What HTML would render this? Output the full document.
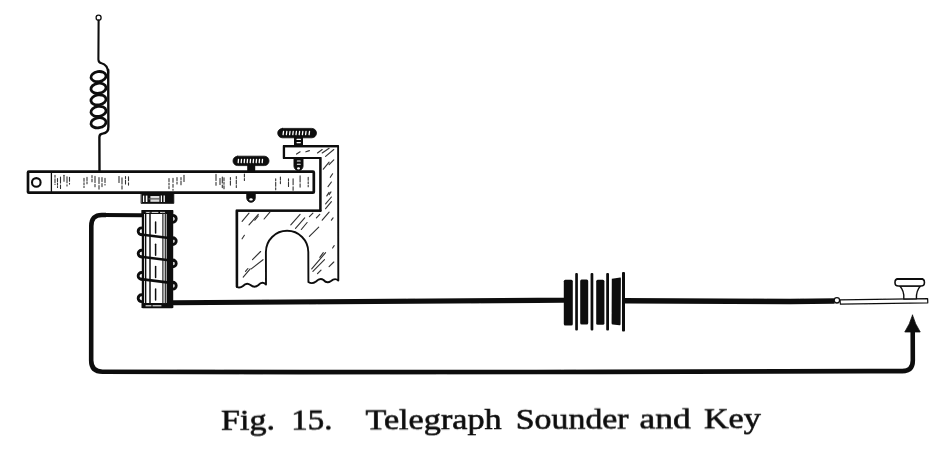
<!DOCTYPE html>
<html><head><meta charset="utf-8">
<style>
html,body{margin:0;padding:0;background:#fff;}
body{width:949px;height:452px;overflow:hidden;font-family:"Liberation Serif",serif;}
svg{display:block;}
text{font-family:"Liberation Serif",serif;fill:#111;}
</style></head><body>
<svg width="949" height="452" viewBox="0 0 949 452">
<defs><filter id="soft" x="-2%" y="-2%" width="104%" height="104%"><feGaussianBlur stdDeviation="0.3"/></filter></defs>
<rect width="949" height="452" fill="#fff"/>
<g filter="url(#soft)">
<g fill="none" stroke="#111" stroke-linecap="round" stroke-linejoin="round">

<!-- TOP TERMINAL + SPRING -->
<g id="spring" stroke-width="2.1">
<circle cx="98.6" cy="17.7" r="2.5" stroke-width="1.3" fill="#fff"/>
<path d="M98.6 20.6 L98.4 59.5 Q98.4 62.6 101.5 63.2 Q107.6 64.6 108.2 72.5"/>
<path d="M108.2 70 L108.4 126.5 Q108.7 133 102.6 133.6 Q99.4 133.9 99.4 137 L99.5 171" stroke-width="2.4"/>
<g stroke-width="2.8">
<ellipse cx="98.5" cy="76.6" rx="7.6" ry="5" transform="rotate(-9 98.5 76.6)"/>
<ellipse cx="98.5" cy="88.3" rx="7.6" ry="5" transform="rotate(-9 98.5 88.3)"/>
<ellipse cx="98.5" cy="99.9" rx="7.6" ry="5" transform="rotate(-9 98.5 99.9)"/>
<ellipse cx="98.5" cy="111.4" rx="7.6" ry="5" transform="rotate(-9 98.5 111.4)"/>
<ellipse cx="98.5" cy="122.8" rx="7.6" ry="5" transform="rotate(-9 98.5 122.8)"/>
</g>
</g>

<!-- BAR -->
<g id="bar">
<rect x="28" y="171.6" width="285.8" height="21.1" stroke-width="2.7" fill="#fff" rx="0.8"/>
<circle cx="36.3" cy="182.4" r="4.3" stroke-width="2.1"/>
<path d="M51.4 172 V192" stroke-width="1.3"/>
<path d="M55.0 175.2 V184.5" stroke-width="1.1" stroke="#333" stroke-dasharray="2 1.5 4 1.5"/>
<path d="M57.5 178.6 V187.4" stroke-width="1.1" stroke="#333" stroke-dasharray="3 1.5 2 1.5"/>
<path d="M60.5 177.0 V188.5" stroke-width="1.1" stroke="#333" stroke-dasharray="6 2"/>
<path d="M64.0 175.3 V182.7" stroke-width="1.1" stroke="#333" stroke-dasharray="6 2"/>
<path d="M67.0 176.7 V186.0" stroke-width="1.1" stroke="#333" stroke-dasharray="6 2"/>
<path d="M69.5 177.2 V184.1" stroke-width="1.1" stroke="#333" stroke-dasharray="4 2 3 2"/>
<path d="M84.0 178.3 V187.5" stroke-width="1.1" stroke="#333" stroke-dasharray="3 1.5 2 1.5"/>
<path d="M87.0 177.4 V183.7" stroke-width="1.1" stroke="#333" stroke-dasharray="3 1.5 2 1.5"/>
<path d="M92.0 175.5 V181.7" stroke-width="1.1" stroke="#333" stroke-dasharray="2 1.5 4 1.5"/>
<path d="M95.0 176.4 V186.7" stroke-width="1.1" stroke="#333" stroke-dasharray="6 2"/>
<path d="M99.0 177.6 V189.1" stroke-width="1.1" stroke="#333" stroke-dasharray="6 2"/>
<path d="M102.0 177.6 V187.1" stroke-width="1.1" stroke="#333" stroke-dasharray="4 2 3 2"/>
<path d="M105.0 178.4 V185.0" stroke-width="1.1" stroke="#333" stroke-dasharray="4 2 3 2"/>
<path d="M119.0 176.5 V184.0" stroke-width="1.1" stroke="#333" stroke-dasharray="6 2"/>
<path d="M122.0 177.9 V189.0" stroke-width="1.1" stroke="#333" stroke-dasharray="6 2"/>
<path d="M125.5 176.5 V184.9" stroke-width="1.1" stroke="#333" stroke-dasharray="2 1.5 4 1.5"/>
<path d="M128.5 176.7 V185.1" stroke-width="1.1" stroke="#333" stroke-dasharray="4 2 3 2"/>
<path d="M169.0 178.5 V188.6" stroke-width="1.1" stroke="#333" stroke-dasharray="3 1.5 2 1.5"/>
<path d="M173.0 178.3 V190.2" stroke-width="1.1" stroke="#333" stroke-dasharray="4 2 3 2"/>
<path d="M177.0 177.5 V185.5" stroke-width="1.1" stroke="#333" stroke-dasharray="3 1.5 2 1.5"/>
<path d="M181.0 177.6 V184.8" stroke-width="1.1" stroke="#333" stroke-dasharray="2 1.5 4 1.5"/>
<path d="M184.0 175.4 V181.8" stroke-width="1.1" stroke="#333" stroke-dasharray="6 2"/>
<path d="M216.0 174.4 V185.2" stroke-width="1.1" stroke="#333" stroke-dasharray="6 2"/>
<path d="M220.0 178.5 V184.6" stroke-width="1.1" stroke="#333" stroke-dasharray="6 2"/>
<path d="M224.0 177.8 V189.1" stroke-width="1.1" stroke="#333" stroke-dasharray="3 1.5 2 1.5"/>
<path d="M222.3 177.0 V187.6" stroke-width="1.1" stroke="#333" stroke-dasharray="6 2"/>
<path d="M230.4 177.6 V185.6" stroke-width="1.1" stroke="#333" stroke-dasharray="2 1.5 4 1.5"/>
<path d="M236.3 176.5 V188.5" stroke-width="1.1" stroke="#333" stroke-dasharray="2 1.5 4 1.5"/>
<path d="M244.4 174.0 V180.7" stroke-width="1.1" stroke="#333" stroke-dasharray="3 1.5 2 1.5"/>
<path d="M275.7 178.7 V190.5" stroke-width="1.1" stroke="#333" stroke-dasharray="2 1.5 4 1.5"/>
<path d="M280.4 177.1 V184.0" stroke-width="1.1" stroke="#333" stroke-dasharray="3 1.5 2 1.5"/>
<path d="M288.5 178.9 V186.9" stroke-width="1.1" stroke="#333" stroke-dasharray="2 1.5 4 1.5"/>
<path d="M293.1 178.8 V190.2" stroke-width="1.1" stroke="#333" stroke-dasharray="6 2"/>
<path d="M300.1 175.9 V187.1" stroke-width="1.1" stroke="#333" stroke-dasharray="6 2"/>
<path d="M308.2 177.2 V186.8" stroke-width="1.1" stroke="#333" stroke-dasharray="3 1.5 2 1.5"/>
</g>

<!-- ARMATURE -->
<g id="arm">
<rect x="141.4" y="193" width="32.4" height="10.4" fill="#111" stroke="#111" stroke-width="0.8"/>
<path d="M143.6 195.6 V202" stroke="#fff" stroke-width="1.3" stroke-linecap="butt"/>
<path d="M146.6 195.6 V202" stroke="#fff" stroke-width="1.6" stroke-linecap="butt"/>
<path d="M161.4 195.6 V202" stroke="#fff" stroke-width="1.2" stroke-linecap="butt"/>
<path d="M164.2 195.6 V202" stroke="#fff" stroke-width="1.3" stroke-linecap="butt"/>
<rect x="150.4" y="196" width="9" height="5.8" fill="#ddd" stroke="none"/>
<path d="M149 198.8 H160" stroke="#555" stroke-width="1.2"/>
</g>

<!-- CORE -->
<g id="core">
<rect x="142.9" y="211" width="29.2" height="96.2" stroke-width="2.2" fill="#fff"/>
<rect x="166.6" y="211" width="6.4" height="97" fill="#111" stroke="none"/>
<path d="M141.4 212 H173.2" stroke-width="4" stroke-linecap="butt"/>
<path d="M146 212.4 H166" stroke="#fff" stroke-width="0.9" stroke-dasharray="4 2 6 2.5"/>
<path d="M141.6 305.4 H173.2" stroke-width="5" stroke-linecap="butt"/>
<path d="M146 305.8 H162" stroke="#fff" stroke-width="1" stroke-dasharray="5 2 8 2"/>
<path d="M145.6 213 V303" stroke-width="1.5" stroke="#111"/>
<path d="M150 213 V303" stroke-width="1.5" stroke="#111"/>
<path d="M162.9 213 V303" stroke-width="1.2" stroke="#222"/>
<path d="M165.3 213 V303" stroke-width="1.2" stroke="#222"/>
<path d="M155.6 222.0 V233.0" stroke-width="1.5"/>
<path d="M155.6 244.3 V255.3" stroke-width="1.5"/>
<path d="M155.6 266.6 V277.6" stroke-width="1.5"/>
<path d="M155.6 288.9 V299.9" stroke-width="1.5"/>
<path d="M172.8 215.4 A3.4 3.4 0 1 1 172.8 222.2" stroke-width="2.9"/>
<path d="M141.6 227.9 A3.4 3.4 0 1 0 141.6 234.7" stroke-width="2.9"/>
<path d="M141 234.5 L173 238.5" stroke-width="2.6"/>
<path d="M172.8 237.7 A3.4 3.4 0 1 1 172.8 244.5" stroke-width="2.9"/>
<path d="M141.6 250.2 A3.4 3.4 0 1 0 141.6 257.0" stroke-width="2.9"/>
<path d="M141 256.8 L173 260.8" stroke-width="2.6"/>
<path d="M172.8 260.0 A3.4 3.4 0 1 1 172.8 266.8" stroke-width="2.9"/>
<path d="M141.6 272.5 A3.4 3.4 0 1 0 141.6 279.3" stroke-width="2.9"/>
<path d="M141 279.1 L173 283.1" stroke-width="2.6"/>
<path d="M172.8 282.3 A3.4 3.4 0 1 1 172.8 289.1" stroke-width="2.9"/>
<path d="M141.6 294.8 A3.4 3.4 0 1 0 141.6 301.6" stroke-width="2.9"/>
</g>

<!-- WIRES -->
<g id="wires" stroke-width="4.7" stroke-linecap="butt">
<path d="M142 215.2 L104 215" stroke-width="4"/>
<path d="M106 215 L102 215 Q91.3 214.9 91.3 226 L91.2 360.5 Q91.2 371.7 102.5 371.7 L300 372.1 L600 371.9 L870 371.1 L902.5 371.1 Q912.8 371.1 912.8 360.5 L912.7 328" stroke-width="4.6"/>
<path d="M172 302.8 L564 300.2" stroke-width="5.1"/>
<path d="M624 300.8 L730 301.3 L790 301.5 L834.6 301" stroke-width="5.4"/>
</g>
<path d="M912.5 315.2 Q915 324 920.2 332 L904.8 332 Q910 324 912.5 315.2 Z" fill="#111" stroke="#111" stroke-width="0.8"/>

<!-- FRAME -->
<g id="frame" stroke-width="1.9">
<path d="M283.8 146.2 L338.1 146.2 L338.3 280.5 Q335 277.5 331 281 Q327 284 323.5 280 Q320 277.5 316 281.5 Q312 284.5 308.4 282 L308.3 252 A21.2 21.2 0 0 0 265.9 252 L266 284.5 Q262 281 258.5 285 Q254.5 288.5 250.5 285 Q246.5 282 243 286 Q240 288.5 236.8 287 L236.6 210.7 L320.4 210.7 L320.4 158 L283.8 158 Z" fill="#fff"/>
<path d="M237 286.5 L237 210.6 L320.4 210.6" stroke-width="2.4" stroke-linejoin="miter"/>
<path d="M320.4 211 V158 H284 V146.2 H338" stroke-width="2.2" stroke-linejoin="miter"/>
</g>

<g id="fh">
<path d="M242.1 221.3 L249.0 213.2" stroke-width="1.15" stroke="#333"/>
<path d="M249.0 224.8 L258.3 214.4" stroke-width="1.15" stroke="#333"/>
<path d="M264.1 219.0 L269.9 212.1" stroke-width="1.15" stroke="#333"/>
<path d="M242.1 238.8 L244.4 235.3" stroke-width="1.15" stroke="#333"/>
<path d="M252.5 259.7 L260.6 251.5" stroke-width="1.15" stroke="#333"/>
<path d="M251.3 268.9 L263.0 259.7" stroke-width="1.15" stroke="#333"/>
<path d="M243.2 277.1 L250.2 268.9" stroke-width="1.15" stroke="#333"/>
<path d="M254.8 220.2 L258.3 216.0" stroke-width="1.15" stroke="#333"/>
<path d="M290.8 224.8 L300.1 214.4" stroke-width="1.15" stroke="#333"/>
<path d="M295.5 228.3 L304.7 217.9" stroke-width="1.15" stroke="#333"/>
<path d="M301.3 229.5 L307.1 222.5" stroke-width="1.15" stroke="#333"/>
<path d="M309.4 216.7 L312.9 213.2" stroke-width="1.15" stroke="#333"/>
<path d="M316.4 217.9 L319.8 214.4" stroke-width="1.15" stroke="#333"/>
<path d="M309.4 236.4 L318.7 227.1" stroke-width="1.15" stroke="#333"/>
<path d="M322.2 220.2 L329.1 212.1" stroke-width="1.15" stroke="#333"/>
<path d="M325.6 203.9 L331.4 197.0" stroke-width="1.15" stroke="#333"/>
<path d="M311.7 268.9 L325.6 252.7" stroke-width="1.15" stroke="#333"/>
<path d="M312.9 271.3 L324.5 259.7" stroke-width="1.15" stroke="#333"/>
<path d="M329.1 266.6 L333.8 262.0" stroke-width="1.15" stroke="#333"/>
<path d="M329.1 194.6 L331.0 191.9" stroke-width="1.15" stroke="#333"/>
<path d="M319.8 257.3 L323.3 252.7" stroke-width="1.15" stroke="#333"/>
<path d="M332.6 248.0 L334.2 245.7" stroke-width="1.15" stroke="#333"/>
<path d="M245.5 271.3 L247.9 268.5" stroke-width="1.15" stroke="#333"/>
<path d="M317.5 273.6 L321.0 270.1" stroke-width="1.15" stroke="#333"/>
<path d="M331.4 220.2 L333.1 217.9" stroke-width="1.15" stroke="#333"/>
<path d="M322.2 153.0 L329.1 148.3" stroke-width="1.15" stroke="#333"/>
<path d="M325.6 156.4 L333.8 149.5" stroke-width="1.15" stroke="#333"/>
<path d="M323.3 169.2 L329.1 162.2" stroke-width="1.15" stroke="#333"/>
<path d="M329.1 164.6 L333.8 159.9" stroke-width="1.15" stroke="#333"/>
<path d="M328.0 186.6 L331.4 182.0" stroke-width="1.15" stroke="#333"/>
<path d="M325.6 208.7 L331.4 201.7" stroke-width="1.15" stroke="#333"/>
<path d="M296.6 154.1 L300.1 151.8" stroke-width="1.15" stroke="#333"/>
<path d="M305.9 151.8 L309.4 150.6" stroke-width="1.15" stroke="#333"/>
<path d="M317.5 153.0 L322.2 149.5" stroke-width="1.15" stroke="#333"/>
<path d="M330.3 177.3 L332.6 173.8" stroke-width="1.15" stroke="#333"/>
<path d="M326.8 195.9 L329.1 192.4" stroke-width="1.15" stroke="#333"/>
</g>
<!-- SCREW 1 (on bar) -->
<g id="screw1">
<rect x="247.2" y="164.5" width="8" height="6.8" fill="#111" stroke="none"/>
<rect x="233" y="156.2" width="36" height="9.4" rx="4.7" fill="#111" stroke="#111" stroke-width="0.8"/>
<path d="M246.8 193 V198 A4.2 4.2 0 0 0 255.2 198 V193 Z" stroke-width="1" fill="#111"/>
<ellipse cx="251" cy="199.4" rx="1.7" ry="1.2" fill="#fff" stroke="none"/>
</g>
<!-- SCREW 2 (on frame arm) -->
<g id="screw2">
<rect x="294" y="137" width="9" height="9.5" fill="#111" stroke="none"/>
<rect x="277.7" y="128.4" width="38.8" height="9.4" rx="4.7" fill="#111" stroke="#111" stroke-width="0.8"/>
<path d="M294 158.5 V166 A4.5 4.5 0 0 0 303 166 V158.5 Z" stroke-width="1" fill="#111"/>
</g>
<g id="knurl">
<path d="M238.5 159.4 L238.2 162.6" stroke="#fff" stroke-width="1.3"/>
<path d="M241.5 159.4 L241.2 162.6" stroke="#fff" stroke-width="1.3"/>
<path d="M244.5 159.4 L244.2 162.6" stroke="#fff" stroke-width="1.3"/>
<path d="M247.5 159.4 L247.2 162.6" stroke="#fff" stroke-width="1.3"/>
<path d="M250.5 159.4 L250.2 162.6" stroke="#fff" stroke-width="1.3"/>
<path d="M253.5 159.4 L253.2 162.6" stroke="#fff" stroke-width="1.3"/>
<path d="M256.5 159.4 L256.2 162.6" stroke="#fff" stroke-width="1.3"/>
<path d="M259.5 159.4 L259.2 162.6" stroke="#fff" stroke-width="1.3"/>
<path d="M262.5 159.4 L262.2 162.6" stroke="#fff" stroke-width="1.3"/>
<path d="M283.5 131.5 L283.1 134.7" stroke="#fff" stroke-width="1.3"/>
<path d="M286.8 131.5 L286.40000000000003 134.7" stroke="#fff" stroke-width="1.3"/>
<path d="M290 131.5 L289.6 134.7" stroke="#fff" stroke-width="1.3"/>
<path d="M293.2 131.5 L292.8 134.7" stroke="#fff" stroke-width="1.3"/>
<path d="M296.4 131.5 L296.0 134.7" stroke="#fff" stroke-width="1.3"/>
<path d="M299.6 131.5 L299.20000000000005 134.7" stroke="#fff" stroke-width="1.3"/>
<path d="M302.8 131.5 L302.40000000000003 134.7" stroke="#fff" stroke-width="1.3"/>
<path d="M306 131.5 L305.6 134.7" stroke="#fff" stroke-width="1.3"/>
<path d="M309.5 131.5 L309.1 134.7" stroke="#fff" stroke-width="1.3"/>
<path d="M297 139.4 H300.4 M297 142.6 H300.4" stroke="#fff" stroke-width="1.1"/>
<path d="M297.4 161 H300.2 M297.4 164.2 H300.2" stroke="#fff" stroke-width="1.1"/>
<ellipse cx="298.5" cy="168.4" rx="1.5" ry="1.1" fill="#fff" stroke="none"/>
</g>
<!-- BATTERY -->
<g id="battery" stroke="none" fill="#111">
<rect x="563.8" y="279.8" width="9" height="45.6" rx="1.5"/>
<rect x="580.2" y="279.4" width="8" height="45" rx="1.5"/>
<rect x="596.2" y="279.8" width="8.2" height="45" rx="1.5"/>
<path d="M611.8 278.8 L620.4 277.6 Q620.9 277.6 620.9 279 L620.6 324 Q620.6 325.2 619.6 325.2 L612.6 324.6 Q611.6 324.4 611.6 323.4 Z"/>
<rect x="575.2" y="273" width="2.7" height="57.6" rx="1"/>
<rect x="590.6" y="273" width="2.7" height="57.6" rx="1"/>
<rect x="606.2" y="273" width="2.8" height="57.6" rx="1"/>
<rect x="622" y="272" width="3" height="59.6" rx="1"/>
</g>

<!-- KEY -->
<g id="key">
<path d="M840 299.9 L927.6 298.6 L927.8 302.8 L840.4 304.2 Z" stroke-width="1.2" fill="#fff"/>
<circle cx="836.9" cy="300.3" r="2.7" stroke-width="1.3" fill="#fff"/>
<path d="M899.8 286 Q904.5 291 903.8 299 L916.4 298.8 Q916 291 920.4 286 Z" stroke-width="1.4" fill="#fff"/>
<rect x="895" y="278.9" width="29.4" height="7.1" rx="3.3" stroke-width="1.6" fill="#fff"/>
<path d="M897.5 279 H922" stroke-width="2.2"/>
</g>

</g>
<g id="cap" font-size="29.3" stroke="#111" stroke-width="0.6" transform="rotate(-0.18 490 428.6)">
<text x="221" y="428.6" textLength="54" lengthAdjust="spacingAndGlyphs">Fig.</text>
<text x="291.3" y="428.6" textLength="41.2" lengthAdjust="spacingAndGlyphs">15.</text>
<text x="365.4" y="428.6" textLength="136.3" lengthAdjust="spacingAndGlyphs">Telegraph</text>
<text x="515.8" y="428.6" textLength="112.8" lengthAdjust="spacingAndGlyphs">Sounder</text>
<text x="639.6" y="428.6" textLength="51.2" lengthAdjust="spacingAndGlyphs">and</text>
<text x="703.9" y="428.6" textLength="57" lengthAdjust="spacingAndGlyphs">Key</text>
</g>
</g>
</svg>
</body></html>
